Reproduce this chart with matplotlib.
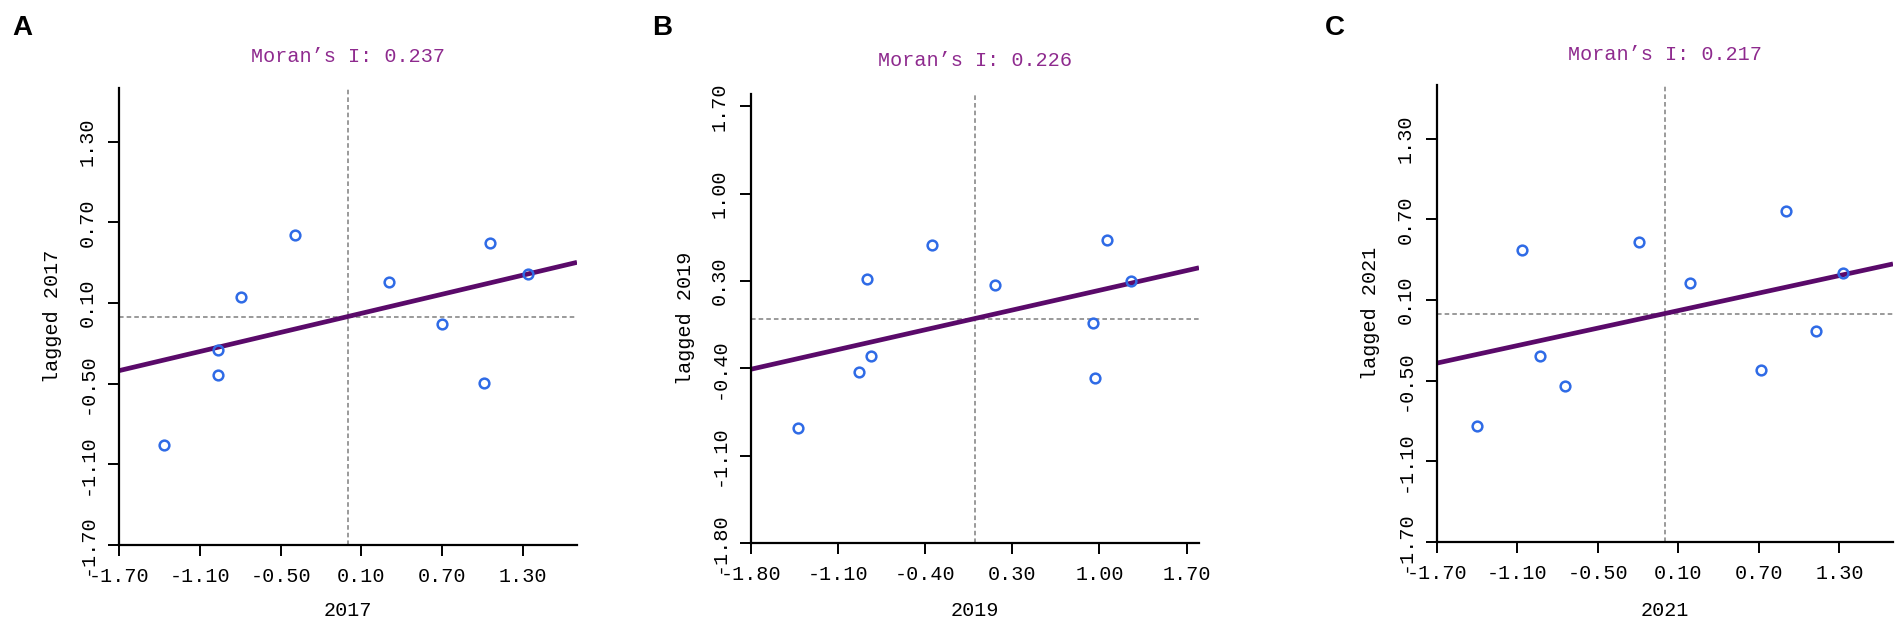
import matplotlib
matplotlib.use("Agg")
import numpy as np
import matplotlib.pyplot as plt
from matplotlib.ticker import FixedLocator, FormatStrFormatter

# ---- data ----
years = ["2017", "2019", "2021"]
panel_letters = ["A", "B", "C"]
morans_i = [0.237, 0.226, 0.217]

x_2017 = [-1.365, -0.962, -0.962, -0.795, -0.395, 0.303, 0.699, 1.053, 1.007, 1.334]
lag_2017 = [-0.956, -0.252, -0.433, 0.147, 0.609, 0.254, -0.054, 0.547, -0.498, 0.316]

x_2019 = [-1.422, -0.930, -0.832, -0.871, -0.346, 0.163, 0.945, 0.961, 1.059, 1.256]
lag_2019 = [-0.874, -0.432, -0.301, 0.316, 0.593, 0.268, -0.040, -0.480, 0.628, 0.300]

x_2021 = [-1.404, -1.069, -0.932, -0.749, -0.191, 0.190, 0.718, 0.901, 1.129, 1.327]
lag_2021 = [-0.838, 0.470, -0.314, -0.542, 0.532, 0.224, -0.421, 0.763, -0.128, 0.301]

ticks_2017 = [-1.70, -1.10, -0.50, 0.10, 0.70, 1.30]
ticks_2019 = [-1.80, -1.10, -0.40, 0.30, 1.00, 1.70]
ticks_2021 = [-1.70, -1.10, -0.50, 0.10, 0.70, 1.30]
limits = [1.70, 1.80, 1.70]

xs = [x_2017, x_2019, x_2021]
lags = [lag_2017, lag_2019, lag_2021]
ticks = [ticks_2017, ticks_2019, ticks_2021]

# ---- layout (pixels in the 1901x623 reference) ----
W, H = 1901, 623
boxes = [(119, 577, 88, 545), (751, 1199, 94, 543), (1437, 1893, 85, 542)]
title_y = [56, 61, 54]
ylabel_x = [53, 685, 1370]
letter_xy = [(22, 28), (662, 28), (1335, 28)]

mono = ["Liberation Mono", "DejaVu Sans Mono"]
fs = 14.5

fig = plt.figure(figsize=(W / 100, H / 100), dpi=100)

for k in range(3):
    l, r, t, b = boxes[k]
    ax = fig.add_axes([l / W, 1 - b / H, (r - l) / W, (b - t) / H])
    lim = limits[k]
    ax.set_xlim(-lim, lim)
    ax.set_ylim(-lim, lim)

    ax.axvline(0, color="#7f7f7f", lw=1.1, ls=(0, (3, 2)), zorder=1)
    ax.axhline(0, color="#7f7f7f", lw=1.1, ls=(0, (3, 2)), zorder=1)

    # fitted line of the Moran scatter: slope equals Moran's I
    line_x = np.array([-lim, lim])
    ax.plot(line_x, morans_i[k] * line_x, color="#5a0a6a", lw=3.4, zorder=2,
            solid_capstyle="butt")

    ax.plot(xs[k], lags[k], "o", mfc="none", mec="#2f6be6", mew=1.8, ms=7,
            zorder=3)

    for side in ["top", "right"]:
        ax.spines[side].set_visible(False)
    for side in ["left", "bottom"]:
        ax.spines[side].set_linewidth(1.6)

    ax.xaxis.set_major_locator(FixedLocator(ticks[k]))
    ax.yaxis.set_major_locator(FixedLocator(ticks[k]))
    ax.xaxis.set_major_formatter(FormatStrFormatter("%.2f"))
    ax.yaxis.set_major_formatter(FormatStrFormatter("%.2f"))
    ax.tick_params(length=8, width=1.4, direction="out", pad=8)
    ax.tick_params(axis="y", labelrotation=90, pad=8)
    for lab in ax.get_xticklabels() + ax.get_yticklabels():
        lab.set_family(mono)
        lab.set_fontsize(fs)
    for lab in ax.get_yticklabels():
        lab.set_va("center")

    cx = (l + r) / 2
    fig.text(cx / W, 1 - title_y[k] / H, "Moran’s I: %.3f" % morans_i[k],
             family=mono, fontsize=fs, color="#8e2a8e", ha="center", va="center")
    fig.text(cx / W, 1 - 610 / H, years[k], family=mono, fontsize=fs,
             ha="center", va="center")
    fig.text(ylabel_x[k] / W, 1 - ((t + b) / 2) / H, "lagged " + years[k],
             family=mono, fontsize=fs, rotation=90, ha="center", va="center")
    lx, ly = letter_xy[k]
    fig.text(lx / W, 1 - ly / H, panel_letters[k], family=["Liberation Sans", "DejaVu Sans"],
             fontsize=20, fontweight="bold", ha="center", va="center")

fig.savefig("out.png", dpi=100)
